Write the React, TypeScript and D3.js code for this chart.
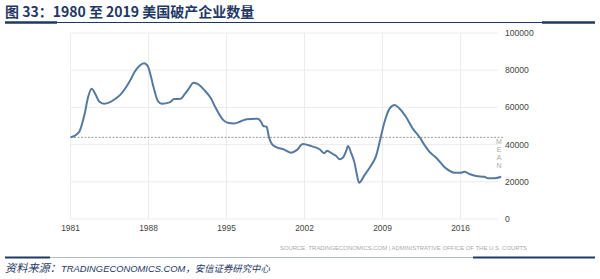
import React from "react";
import * as d3 from "d3";

const title = "图 33：1980 至 2019 美国破产企业数量";
const years: number[] = [
  1981.0, 1981.4, 1981.8, 1982.25, 1982.6, 1982.9, 1983.2, 1983.6, 1984.0, 1984.5,
  1985.0, 1985.5, 1986.0, 1986.4, 1986.75, 1987.2, 1987.6, 1987.95, 1988.2, 1988.45,
  1988.85, 1989.2, 1989.9, 1990.3, 1990.9, 1991.2, 1991.6, 1992.05, 1992.5, 1993.0,
  1993.6, 1994.05, 1994.65, 1995.1, 1995.7, 1996.2, 1996.8, 1997.8, 1998.1, 1998.3,
  1998.6, 1998.8, 1999.15, 1999.75, 2000.1, 2000.8, 2001.3, 2001.85, 2002.6, 2003.35,
  2003.8, 2004.0, 2004.55, 2004.85, 2005.15, 2005.45, 2005.75, 2005.9, 2006.2, 2006.5,
  2006.65, 2006.9, 2007.4, 2008.0, 2008.4, 2008.75, 2009.15, 2009.65, 2010.1, 2010.5,
  2011.1, 2011.7, 2012.3, 2012.8, 2013.2, 2013.8, 2014.7, 2015.45, 2016.05, 2016.35,
  2016.8, 2017.4, 2018.15, 2018.45, 2019.05, 2019.65,
];
const values: number[] = [
  44000, 44800, 47000, 56000, 66000, 70000, 67500, 63000, 62000, 62700,
  64500, 67000, 71000, 75000, 79000, 82400, 83700, 82000, 77000, 71000,
  63400, 62000, 62700, 64500, 64600, 66700, 70000, 73300, 72300, 69400,
  64900, 59500, 53600, 51800, 51400, 52300, 53600, 53900, 52300, 50000,
  49600, 44200, 39800, 38000, 37500, 35600, 37000, 40300, 39200, 37500,
  35300, 36700, 34900, 33900, 32100, 33000, 36700, 39200, 35300, 29900,
  25400, 19500, 23700, 29000, 33500, 41500, 51500, 59500, 61300, 59500,
  55000, 48700, 44200, 39500, 36200, 33100, 27200, 24900, 24900, 25400,
  24200, 23100, 22700, 21900, 21900, 22700,
];
const meanValue = 43900;
const xTicks: number[] = [1981, 1988, 1995, 2002, 2009, 2016];
const yTicks: number[] = [0, 20000, 40000, 60000, 80000, 100000];
const sourceText = "SOURCE: TRADINGECONOMICS.COM  |  ADMINISTRATIVE OFFICE OF THE U.S. COURTS";
const meanLetters = ["M", "E", "A", "N"];
const footerLabel = "资料来源：";
const footerSite = "TRADINGECONOMICS.COM";
const footerRest = "，安信证券研究中心";

export default function App() {
  const x = d3.scaleLinear().domain([1981, 2016]).range([70.5, 460.5]);
  const y = d3.scaleLinear().domain([0, 100000]).range([219, 33]);
  const data = years.map((t, i) => [t, values[i]] as [number, number]);
  const line = d3
    .line<[number, number]>()
    .x((d) => x(d[0]))
    .y((d) => y(d[1]))
    .curve(d3.curveMonotoneX);
  const navy = "#1f3864";
  const axisFont = "'Liberation Sans', Arial, sans-serif";
  return (
    <svg
      width={600}
      height={279}
      style={{ position: "absolute", left: 0, top: 0, background: "#fff" }}
    >
      <text
        x={5}
        y={17}
        fontFamily="'Noto Sans CJK SC', sans-serif"
        fontWeight="bold"
        fontSize={14}
        fill={navy}
      >
        {title}
      </text>
      <line x1={5} x2={595} y1={22.5} y2={22.5} stroke={navy} strokeWidth={1} />
      <line x1={5} x2={57} y1={22.5} y2={22.5} stroke={navy} strokeWidth={2.5} />
      <line x1={542} x2={595} y1={22.5} y2={22.5} stroke={navy} strokeWidth={2.5} />

      {yTicks.map((v) => (
        <line key={"hg" + v} x1={70.5} x2={498} y1={y(v)} y2={y(v)} stroke="#ececec" strokeWidth={1} />
      ))}
      {xTicks.map((t) => (
        <line key={"vg" + t} x1={x(t)} x2={x(t)} y1={33} y2={219} stroke="#ececec" strokeWidth={1} />
      ))}
      <line
        x1={70.5}
        x2={503}
        y1={y(meanValue)}
        y2={y(meanValue)}
        stroke="#9a9a9a"
        strokeWidth={1}
        strokeDasharray="2,1.5"
      />
      {meanLetters.map((c, i) => (
        <text
          key={"m" + i}
          x={499}
          y={144 + i * 8}
          textAnchor="middle"
          fontFamily={axisFont}
          fontSize={7}
          fill="#aaa"
        >
          {c}
        </text>
      ))}
      <path d={line(data) || ""} fill="none" stroke="#56799f" strokeWidth={2} strokeLinejoin="round" />

      {yTicks.map((v) => (
        <text
          key={"yl" + v}
          x={505}
          y={y(v)}
          dy="0.35em"
          fontFamily={axisFont}
          fontSize={8.6}
          fill="#444"
        >
          {v}
        </text>
      ))}
      {xTicks.map((t) => (
        <text
          key={"xl" + t}
          x={x(t)}
          y={228}
          dy="0.35em"
          textAnchor="middle"
          fontFamily={axisFont}
          fontSize={8.4}
          fill="#444"
        >
          {t}
        </text>
      ))}
      <text
        x={280}
        y={248}
        dy="0.35em"
        fontFamily={axisFont}
        fontSize={5.6}
        fill="#aaa"
        textLength={247}
        lengthAdjust="spacingAndGlyphs"
      >
        {sourceText}
      </text>

      <line x1={5} x2={595} y1={257.5} y2={257.5} stroke="#a0a8b8" strokeWidth={0.8} />
      <line x1={5} x2={50} y1={257.5} y2={257.5} stroke={navy} strokeWidth={2} />
      <line x1={473} x2={595} y1={257.5} y2={257.5} stroke={navy} strokeWidth={2} />

      <text x={5} y={272} fill={navy} fontStyle="italic">
        <tspan fontSize={11.2} fontFamily="'Noto Sans CJK SC', serif">{footerLabel}</tspan>
        <tspan fontSize={9.4} fontFamily={axisFont}>{footerSite}</tspan>
        <tspan fontSize={9.4} fontFamily="'Noto Sans CJK SC', serif">{footerRest}</tspan>
      </text>
    </svg>
  );
}
